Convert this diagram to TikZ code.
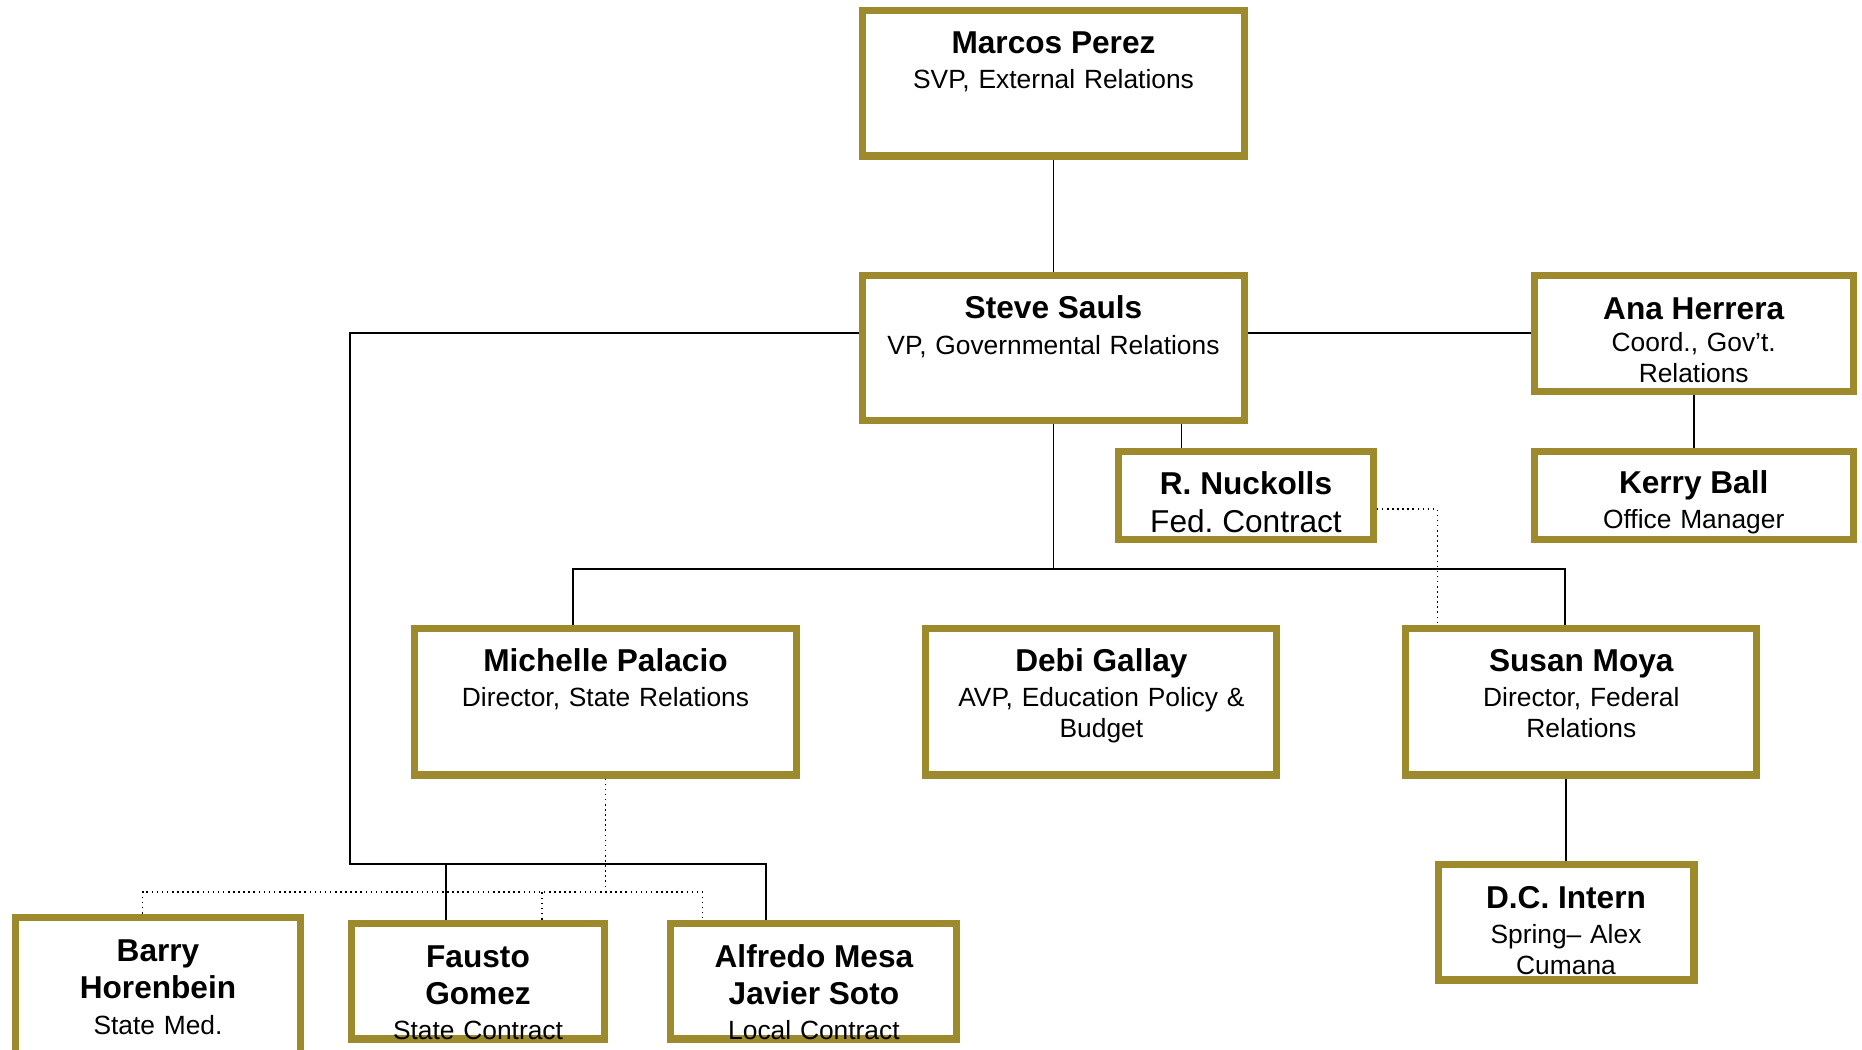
\documentclass[tikz,border=0pt]{standalone}
\usepackage{fontspec}
\setmainfont{Liberation Sans}
\usepackage{xcolor}
\usepackage{tikz}
\frenchspacing
\definecolor{gold}{RGB}{157,138,45}
\newcommand{\titlefont}{\fontsize{15}{18}\selectfont}
\newcommand{\pname}[1]{{\fontsize{18}{21}\selectfont\bfseries #1}}
\tikzstyle{person} = [rectangle, draw=gold, line width=4pt, fill=white, inner sep=0pt, align=center, font=\titlefont]
\tikzstyle{conn} = [line width=1.1pt]
\tikzstyle{dotline} = [line width=0.9pt, dotted]

\begin{document}
\begin{tikzpicture}[x=0.02cm, y=-0.02cm, node distance=5.31cm]
\useasboundingbox (0,0) rectangle (1862,1049);

\node (marcos) [person, text width=7.66cm, text height=0.86cm, text depth=2.06cm] at (1053.5,83) {\pname{Marcos Perez}\\[2pt]SVP, External Relations};
\node (steve) [person, below of=marcos, text width=7.66cm, text height=0.86cm, text depth=2.04cm] {\pname{Steve Sauls}\\[2pt]VP, Governmental Relations};
\node (ana) [person, text width=6.38cm, text height=0.88cm, text depth=1.44cm] at (1693.7,333.4) {\pname{Ana Herrera}\\Coord., Gov’t.\\Relations};
\node (kerry) [person, node distance=3.24cm, below of=ana, text width=6.38cm, text height=0.83cm, text depth=0.92cm] {\pname{Kerry Ball}\\[2pt]Office Manager};
\node (nuckolls) [person, text width=5.09cm, text height=0.86cm, text depth=0.89cm] at (1246,495.5) {\pname{R. Nuckolls}\\[3.5pt]{\fontsize{18}{21}\selectfont Fed. Contract}};

\node (michelle) [person, text width=7.66cm, text height=0.86cm, text depth=2.08cm] at (605.5,701.5) {\pname{Michelle Palacio}\\[2pt]Director, State Relations};
\node (debi) [person, node distance=9.92cm, right of=michelle, text width=7.02cm, text height=0.86cm, text depth=2.08cm] {\pname{Debi Gallay}\\[2pt]AVP, Education Policy \&\\Budget};
\node (susan) [person, node distance=9.6cm, right of=debi, text width=7.02cm, text height=0.86cm, text depth=2.08cm] {\pname{Susan Moya}\\[2pt]Director, Federal\\Relations};
\node (intern) [person, text width=5.12cm, text height=0.88cm, text depth=1.44cm] at (1566,922) {\pname{D.C. Intern}\\[2pt]Spring– Alex\\Cumana};

\node (barry) [person, text width=5.72cm, text height=0.88cm, text depth=2.08cm] at (158,991) {\pname{Barry}\\[3.5pt]\pname{Horenbein}\\[2.4pt]State Med.};
\node (fausto) [person, text width=5.08cm, text height=0.88cm, text depth=1.44cm] at (478,981) {\pname{Fausto}\\[3.5pt]\pname{Gomez}\\[2pt]State Contract};
\node (alfredo) [person, node distance=6.72cm, right of=fausto, text width=5.72cm, text height=0.88cm, text depth=1.44cm] {\pname{Alfredo Mesa}\\[3.5pt]\pname{Javier Soto}\\[2pt]Local Contract};

\coordinate (midbar) at (1053.5,569);
\coordinate (leftbar) at (350,864);
\coordinate (dotbar) at (605.5,892);

\draw [conn] (marcos.south) -- (steve.north);
\draw [conn] (ana.west) -- (ana.west -| steve.east);
\draw [conn] (ana.south) -- (kerry.north);
\draw [conn] ([xshift=2.56cm]steve.south) -- ([xshift=2.56cm]steve.south |- nuckolls.north);
\draw [conn] (steve.south) -- (midbar);
\draw [conn] ([xshift=-0.65cm]michelle.north) |- (midbar) -| ([xshift=-0.32cm]susan.north);
\draw [conn] (intern.north) -- (intern.north |- susan.south);
\draw [conn] ([yshift=0.31cm]steve.west) -| (leftbar) -| ([xshift=-0.96cm]alfredo.north);
\draw [conn] ([xshift=-0.64cm]fausto.north) -- ([xshift=-0.64cm]fausto.north |- leftbar);

\draw [dotline] ([yshift=-0.27cm]nuckolls.east) -| ([xshift=-2.88cm]susan.north);
\draw [dotline] (michelle.south) -- (dotbar);
\draw [dotline] ([xshift=-0.31cm]barry.north) |- (dotbar) -| ([xshift=-2.23cm]alfredo.north);
\draw [dotline] ([xshift=1.28cm]fausto.north) -- ([xshift=1.28cm]fausto.north |- dotbar);
\end{tikzpicture}
\end{document}
